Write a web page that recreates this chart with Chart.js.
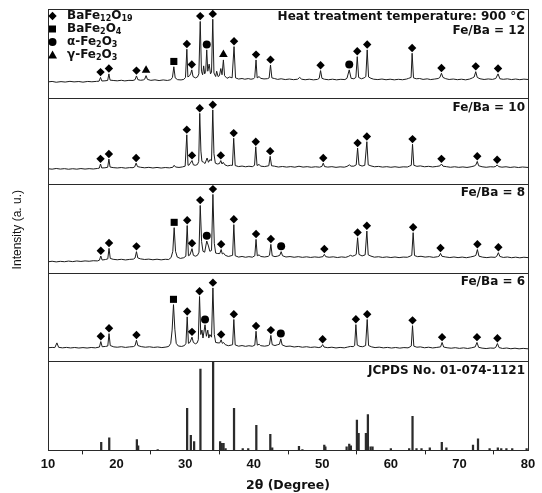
<!DOCTYPE html>
<html>
<head>
<meta charset="utf-8">
<script src="https://cdn.jsdelivr.net/npm/chart.js@4.4.0/dist/chart.umd.min.js"></script>
<style>
  html, body { margin: 0; background: #fff; }
  #wrap { width: 542px; height: 493px; }
</style>
</head>
<body>
<div id="wrap"><canvas id="xrd"></canvas></div>
<script>
// reference pattern JCPDS 01-074-1121 : [2theta, rel. intensity]
const jcpdsSticks = [[17.76,9],[18.93,14],[22.96,12],[23.15,5],[26.0,1],[30.29,47],[30.83,17],[31.31,10],[32.23,91],[34.08,100],
  [35.1,10],[35.34,8],[35.6,8],[35.9,2],[37.13,47],[38.4,2],[39.2,2],[40.38,28],[42.42,18],[42.7,3],[46.6,4.5],[47.1,1],
  [50.29,6],[50.45,4],[53.55,4],[53.93,7],[54.17,5],[55.05,34],[55.3,19],[56.36,19],[56.65,40],[57.04,4],[57.33,4],[60.0,2],
  [62.67,2],[63.16,38],[63.74,2],[64.47,2],[65.68,3],[67.43,9],[68.1,3],[71.98,6],[72.71,13],[74.4,2],[75.6,3],[76.1,2],
  [76.85,2],[77.7,2],[79.8,2]];

const fe12 = [[10,18],[10.6,18.5],[11.2,17.6],[11.9,18.3],[12.5,17.8],[13.2,18.6],[13.8,18],[14.5,18.4],[15.1,17.7],[15.8,18.5],[16.4,18.1],[17.1,18.6],
  [17.45,18.8],[17.66,23],[17.85,19],[18.3,19.2],[18.7,19.6],[18.88,27],[19.05,20],[19.5,19.6],[20.1,19.2],[20.7,19.8],[21.2,19.1],[21.8,19.7],
  [22.4,19.6],[22.7,20.5],[22.9,24.7],[23.1,20.5],[23.5,19.8],[23.9,20.2],[24.1,21],[24.3,25],[24.5,20.8],[25,19.7],[25.6,20.3],[26.2,19.5],
  [26.8,20.2],[27.4,19.6],[27.9,20.4],[28.15,23],[28.35,35],[28.55,22.5],[28.9,20.5],[29.4,20.2],[29.8,20.8],[30.05,23],[30.25,54.7],[30.4,23.5],
  [30.65,25],[30.8,27],[30.97,31.5],[31.15,24],[31.5,22.5],[31.8,23.5],[32.0,27],[32.2,86],[32.38,30],[32.55,26],[32.7,36],[32.85,27],[33.0,30],
  [33.15,54],[33.3,30],[33.5,38],[33.7,27],[33.85,29],[34.03,88.5],[34.2,28],[34.45,24],[34.6,30],[34.8,24],[35.0,25],[35.2,33],[35.38,26],
  [35.58,42.7],[35.75,25],[36.1,22],[36.5,23.5],[36.85,22.5],[37.13,57.7],[37.35,22.5],[37.8,21.2],[38.3,21.8],[38.7,21],[39.2,21.7],[39.6,21],
  [40.0,21.6],[40.15,23],[40.34,42.7],[40.5,22.5],[40.8,24],[41.0,22],[41.5,21.3],[42.0,21.6],[42.25,22.5],[42.45,37],[42.65,22.5],[43.0,21.8],
  [43.5,20.8],[44.0,21.5],[44.6,20.6],[45.2,21.2],[45.8,20.5],[46.4,21],[46.7,23],[47.0,21],[47.5,20.4],[48.1,21],[48.7,20.3],[49.3,20.8],
  [49.55,22],[49.75,30.7],[49.95,22],[50.3,21],[50.9,20.4],[51.5,21],[52.1,20.3],[52.7,20.9],[53.3,20.6],[53.6,22],[53.93,31.5],[54.2,22],
  [54.6,21.5],[54.9,23],[55.1,46.4],[55.3,23],[55.7,21.5],[56.1,22.5],[56.35,24],[56.55,54],[56.75,23.5],[57.1,22],[57.5,21],[58.1,20.6],
  [58.7,21.2],[59.3,20.4],[59.9,21],[60.5,20.3],[61.1,20.9],[61.7,20.4],[62.3,21.2],[62.6,22],[62.95,23],[63.1,50.2],[63.3,22.5],[63.7,21.5],
  [64.2,21.8],[64.7,20.8],[65.3,21.4],[65.8,20.6],[66.4,21.2],[66.9,21.8],[67.15,23],[67.38,27.7],[67.6,23],[68.0,21.6],[68.5,20.7],[69.1,21.2],
  [69.7,20.5],[70.3,21],[70.9,20.3],[71.5,21.2],[71.9,22.5],[72.15,23.5],[72.38,29.5],[72.6,23],[73.0,21.5],[73.6,20.7],[74.2,21.3],[74.8,20.8],
  [75.3,21.8],[75.63,27],[75.9,21.5],[76.4,20.9],[77,21.4],[77.6,20.6],[78.2,21.2],[78.8,20.5],[79.4,21.1],[80,20.7]];

const fe10 = [[10,17.5],[10.6,17],[11.2,17.8],[11.8,17.1],[12.4,17.6],[13,16.9],[13.6,17.5],[14.2,17.0],[14.8,17.7],[15.4,17.1],[16,17.6],[16.6,17.2],
  [17.2,17.8],[17.48,18.2],[17.66,23],[17.84,18.4],[18.3,18.6],[18.7,19.2],[18.88,28.7],[19.05,19.5],[19.5,18.8],[20.1,18.4],[20.7,18.9],[21.3,18.2],
  [21.9,18.8],[22.4,18.7],[22.65,19.8],[22.85,24],[23.05,20],[23.5,19.2],[24.1,18.6],[24.7,19.1],[25.3,18.4],[25.9,19],[26.5,18.3],[27.1,18.9],
  [27.7,18.5],[28.2,19.2],[28.4,21.5],[28.6,19.5],[29.1,19],[29.6,19.6],[30.0,20.5],[30.24,57],[30.42,21.5],[30.6,22],[30.75,24],[31.0,27],
  [31.2,22],[31.5,21.5],[31.8,22.5],[31.98,26],[32.13,82],[32.3,38],[32.45,26],[32.7,25],[32.9,23.5],[33.2,30],[33.4,25],[33.6,28],[33.85,27],
  [34.03,86],[34.2,35],[34.4,24],[34.7,23],[35.0,23.5],[35.2,27],[35.38,23],[35.55,25],[35.8,22],[36.2,20.8],[36.6,21.5],[36.9,21.5],[37.08,53],
  [37.3,21.2],[37.8,20],[38.3,20.6],[38.8,19.8],[39.3,20.4],[39.8,19.9],[40.12,21.5],[40.3,43],[40.48,21.3],[40.8,22.5],[41.0,20.5],[41.6,20],
  [42.2,21],[42.4,32],[42.6,21],[43.0,20.5],[43.6,19.5],[44.2,20.1],[44.8,19.4],[45.4,20],[46,19.3],[46.6,20.4],[47.2,19.4],[47.8,19.9],
  [48.4,19.2],[49,19.8],[49.6,19.3],[49.95,20.2],[50.14,24],[50.33,20],[50.8,19.4],[51.4,19.9],[52,19.1],[52.6,19.7],[53.2,19.3],[53.6,20.2],
  [53.95,22],[54.2,20.5],[54.6,20.5],[54.95,22],[55.15,41.5],[55.35,22],[55.8,20.6],[56.2,21.5],[56.5,49],[56.7,22],[57.1,20.8],[57.6,19.8],
  [58.2,20.2],[58.8,19.4],[59.4,19.9],[60,19.2],[60.6,19.8],[61.2,19.1],[61.8,19.7],[62.4,19.5],[62.7,20.5],[62.98,21.5],[63.16,46],[63.35,21.5],
  [63.8,20.3],[64.3,20.8],[64.9,19.8],[65.5,20.3],[66.1,19.6],[66.7,20.2],[67.15,20.8],[67.38,23],[67.6,20.5],[68.1,19.9],[68.7,19.2],[69.3,19.8],
  [69.9,19.1],[70.5,19.6],[71.1,19],[71.7,19.8],[72.15,20.7],[72.4,22],[72.6,26],[72.8,21],[73.3,19.8],[73.9,19.2],[74.5,19.8],[75.0,19.6],
  [75.3,20.2],[75.5,22],[75.72,20],[76.2,19.3],[76.8,19.8],[77.4,19],[78,19.6],[78.6,18.9],[79.2,19.5],[80,19]];

const fe8 = [[10,12.2],[10.6,12.8],[11.2,12.1],[11.8,12.7],[12.4,12.3],[13,13],[13.6,12.4],[14.2,13.1],[14.8,12.6],[15.4,13.2],[16,12.8],[16.6,13.4],
  [17.2,13.2],[17.5,14],[17.7,18.7],[17.9,14.2],[18.4,14.8],[18.72,15.5],[18.9,27.3],[19.08,16],[19.5,15],[20.1,14.5],[20.7,15],[21.3,14.3],
  [21.9,14.9],[22.45,15.2],[22.7,16.5],[22.9,23.6],[23.1,16.5],[23.5,15.5],[24.1,14.8],[24.7,15.2],[25.3,14.5],[25.9,15.1],[26.5,14.4],[27.1,15],
  [27.6,14.8],[27.95,17],[28.2,24],[28.4,50.6],[28.6,24],[28.85,17.5],[29.3,16],[29.8,16.8],[30.1,18.5],[30.3,53],[30.48,19],[30.7,20],[31.0,27],
  [31.2,19.5],[31.5,18.5],[31.8,19.5],[32.02,23],[32.2,75.6],[32.4,35],[32.6,24],[32.85,23],[33.15,35.6],[33.4,30],[33.6,24],[33.85,25],
  [34.05,88],[34.25,33],[34.45,22],[34.75,21.5],[35.05,21.5],[35.25,26],[35.42,21],[35.6,22],[35.85,19.5],[36.3,18.2],[36.7,19],[36.92,19.5],
  [37.1,54],[37.3,19],[37.8,17.5],[38.3,18.2],[38.8,17.3],[39.3,18],[39.8,17.4],[40.16,19],[40.34,37.4],[40.52,19],[40.8,20],[41.0,18.2],
  [41.6,17.6],[42.1,18.3],[42.3,19.5],[42.5,31.8],[42.7,19],[43.1,18],[43.5,18.6],[43.8,19.5],[44.0,23.6],[44.2,19],[44.7,17.6],[45.3,18.1],
  [45.9,17.3],[46.5,18],[47.1,17.2],[47.7,17.8],[48.3,17.1],[48.9,17.7],[49.5,17.2],[50.1,18],[50.3,20.6],[50.5,18],[51,17.3],[51.6,17.8],
  [52.2,17],[52.8,17.7],[53.4,17.2],[53.8,18.2],[54.1,19.5],[54.4,18.5],[54.75,19.5],[54.95,20.5],[55.15,39.3],[55.35,20.5],[55.8,18.8],
  [56.25,20],[56.5,46.8],[56.7,20],[57.1,18.6],[57.6,17.4],[58.2,17.9],[58.8,17.1],[59.4,17.7],[60,17],[60.6,17.6],[61.2,16.9],[61.8,17.5],
  [62.4,17.3],[62.8,18.5],[63.05,19.5],[63.25,45],[63.45,19.2],[63.9,18],[64.4,18.4],[65,17.5],[65.6,18],[66.2,17.2],[66.8,17.9],[67.05,18.6],
  [67.24,21.7],[67.45,18.4],[68,17.6],[68.6,17],[69.2,17.6],[69.8,16.9],[70.4,17.5],[71,16.8],[71.6,17.6],[72.15,18.6],[72.4,19.5],[72.62,26],
  [72.85,18.5],[73.4,17.4],[74,16.9],[74.6,17.5],[75.2,17.2],[75.45,18.5],[75.68,22.5],[75.9,18.2],[76.4,17.1],[77,17.6],[77.6,16.8],[78.2,17.4],
  [78.8,16.7],[79.4,17.3],[80,16.9]];

const fe6 = [[10,15],[10.6,15.4],[11.0,15.2],[11.3,20.5],[11.55,15.5],[12.1,14.9],[12.7,15.4],[13.3,14.8],[13.9,15.3],[14.5,14.7],[15.1,15.2],
  [15.7,14.7],[16.3,15.3],[16.9,14.9],[17.5,15.8],[17.7,22],[17.9,16.2],[18.4,16.5],[18.72,17],[18.9,31],[19.08,17.5],[19.6,16],[20.1,15.6],
  [20.7,16.2],[21.3,15.4],[21.9,16],[22.45,16.3],[22.7,17.5],[22.9,23.5],[23.1,17.5],[23.6,16.3],[24.2,15.6],[24.8,16.1],[25.4,15.4],[26,15.9],
  [26.6,15.2],[27.2,15.8],[27.6,16.5],[27.9,20],[28.1,35],[28.3,63.8],[28.5,36],[28.7,20],[29.0,17],[29.5,16.5],[29.9,17.5],[30.12,20],[30.3,50],
  [30.48,20],[30.7,21],[31.0,27],[31.2,21],[31.5,19.5],[31.75,20.5],[31.92,24],[32.1,73],[32.28,30],[32.45,35],[32.6,26],[32.9,41],[33.1,28],
  [33.3,35],[33.45,26],[33.6,30],[33.85,27],[34.05,82.7],[34.25,30],[34.45,21],[34.8,20.5],[35.05,20.5],[35.25,24],[35.42,20],[35.6,21],
  [35.85,18.5],[36.3,17.3],[36.7,18],[36.92,18.5],[37.1,47],[37.3,18.2],[37.8,16.8],[38.3,17.5],[38.8,16.6],[39.3,17.3],[39.8,16.7],[40.16,18],
  [40.34,33.7],[40.52,18],[40.8,19],[41.0,17.4],[41.6,16.8],[42.1,17.5],[42.3,18.5],[42.5,29],[42.7,18.5],[43.1,17.5],[43.5,18.5],[43.75,19],
  [43.95,25],[44.15,18.2],[44.7,16.5],[45.3,16.9],[45.9,15.9],[46.5,16.5],[47.1,15.6],[47.7,16.2],[48.3,15.4],[48.9,15.9],[49.5,15.2],[49.85,16],
  [50.05,18.6],[50.25,15.8],[50.8,15.1],[51.4,15.6],[52,14.8],[52.6,15.4],[53.2,14.9],[53.7,15.8],[54.1,16.5],[54.5,16.3],[54.72,17.5],[54.9,41.2],
  [55.1,18],[55.5,16.5],[55.9,16.2],[56.32,17.5],[56.55,47],[56.75,17.5],[57.2,16],[57.7,15.2],[58.3,15.7],[58.9,14.9],[59.5,15.4],[60.1,14.7],
  [60.7,15.3],[61.3,14.6],[61.9,15.2],[62.5,14.9],[62.8,16],[62.98,17],[63.16,40],[63.35,16.8],[63.8,15.6],[64.3,16],[64.9,15],[65.5,15.6],
  [66.1,14.8],[66.7,15.4],[67.25,16],[67.47,21],[67.7,15.8],[68.2,15],[68.8,14.5],[69.4,15.1],[70,14.3],[70.6,14.9],[71.2,14.2],[71.8,15],
  [72.3,16],[72.56,21],[72.8,15.5],[73.3,14.6],[73.9,14.1],[74.5,14.7],[75.05,14.5],[75.3,15.5],[75.54,19.8],[75.78,15.2],[76.3,14.2],[76.9,14.7],
  [77.5,13.9],[78.1,14.5],[78.7,13.8],[79.3,14.3],[80,13.8]];

// peak assignments (2theta of the marked peaks)
const hex12 = [17.66,18.88,22.9,30.25,30.97,32.2,34.03,37.13,40.34,42.45,49.75,55.1,56.55,63.1,67.38,72.38,75.63];
const bf12 = [28.35];
const alpha12 = [33.15,53.93];
const gamma12 = [24.3,35.58];
const hex10 = [17.66,18.88,22.85,30.24,31.0,32.13,34.03,35.2,37.08,40.3,42.4,50.14,55.15,56.5,63.16,67.38,72.6,75.5];
const hex8 = [17.7,18.9,22.9,30.3,31.0,32.2,34.05,35.25,37.1,40.34,42.5,50.3,55.15,56.5,63.25,67.24,72.62,75.68];
const bf8 = [28.4];
const alpha8 = [33.15,44.0];
const hex6 = [17.7,18.9,22.9,30.3,31.0,32.1,34.05,35.25,37.1,40.34,42.5,50.05,54.9,56.55,63.16,67.47,72.56,75.54];
const bf6 = [28.3];
const alpha6 = [32.9,43.95];

const panelLabels = ['JCPDS No. 01-074-1121', 'Fe/Ba = 6', 'Fe/Ba = 8', 'Fe/Ba = 10', 'Fe/Ba = 12'];
const xTicks = [10, 20, 30, 40, 50, 60, 70, 80];

const MARK_GAP = 6;
const INK = '#111';
const BOLD = 'bold 12px "DejaVu Sans"';

function pts(arr) { return arr.map(p => ({x: p[0], y: p[1]})); }

function marks(trace, xs) {
  return xs.map(x => {
    const p = trace.find(q => Math.abs(q[0] - x) < 0.005);
    return {x: x, y: p[1] + MARK_GAP};
  });
}

const styles = {
  hex: {pointStyle: 'rectRot', pointRadius: 4.2},
  bf: {pointStyle: 'rect', pointRadius: 5},
  alpha: {pointStyle: 'circle', pointRadius: 4},
  gamma: {pointStyle: 'triangle', pointRadius: 5}
};

function markSet(trace, xs, kind, axis) {
  return Object.assign({
    type: 'line', data: marks(trace, xs), yAxisID: axis, showLine: false,
    pointBackgroundColor: '#000', pointBorderWidth: 0, pointHoverRadius: 0,
    clip: false, order: 0
  }, styles[kind]);
}

function trace(arr, axis) {
  return {type: 'line', data: pts(arr), yAxisID: axis, borderColor: '#1c1c1c', borderWidth: 1,
    pointRadius: 0, tension: 0, fill: false, order: 1};
}

const datasets = [
  {type: 'bar', data: pts(jcpdsSticks), yAxisID: 'y0', backgroundColor: '#2b2b2b', barThickness: 1.6, order: 2},
  trace(fe6, 'y1'), trace(fe8, 'y2'), trace(fe10, 'y3'), trace(fe12, 'y4'),
  markSet(fe12, hex12, 'hex', 'y4'), markSet(fe12, bf12, 'bf', 'y4'),
  markSet(fe12, alpha12, 'alpha', 'y4'), markSet(fe12, gamma12, 'gamma', 'y4'),
  markSet(fe10, hex10, 'hex', 'y3'),
  markSet(fe8, hex8, 'hex', 'y2'), markSet(fe8, bf8, 'bf', 'y2'), markSet(fe8, alpha8, 'alpha', 'y2'),
  markSet(fe6, hex6, 'hex', 'y1'), markSet(fe6, bf6, 'bf', 'y1'), markSet(fe6, alpha6, 'alpha', 'y1')
];

const weights = [89.5, 88.5, 89, 86, 89];
const scales = {
  x: {
    type: 'linear', min: 10, max: 80, offset: false,
    afterBuildTicks: s => { s.ticks = xTicks.map(v => ({value: v})); },
    ticks: {font: {family: 'Liberation Sans', weight: 'bold', size: 13}, color: INK, padding: 2, maxRotation: 0},
    grid: {drawOnChartArea: false, drawTicks: true, tickLength: 4, color: '#222'},
    border: {display: true, color: '#222'},
    title: {display: true, text: '2θ (Degree)', color: INK, font: {family: 'DejaVu Sans', weight: 'bold', size: 12.5}, padding: {top: 4, bottom: 0}}
  }
};
weights.forEach((w, i) => {
  scales['y' + i] = {
    type: 'linear', position: 'left', stack: 'xrd', stackWeight: w, min: 0, max: 100, offset: false,
    ticks: {display: false}, grid: {display: false, drawTicks: false}, border: {display: false}
  };
});

function drawShape(ctx, kind, x, y) {
  ctx.beginPath();
  if (kind === 'hex') {
    ctx.moveTo(x, y - 4.2); ctx.lineTo(x + 4.2, y); ctx.lineTo(x, y + 4.2); ctx.lineTo(x - 4.2, y);
  } else if (kind === 'bf') {
    ctx.rect(x - 3.5, y - 3.5, 7, 7);
  } else if (kind === 'alpha') {
    ctx.arc(x, y, 4, 0, Math.PI * 2);
  } else {
    ctx.moveTo(x, y - 4.5); ctx.lineTo(x + 4.5, y + 3.5); ctx.lineTo(x - 4.5, y + 3.5);
  }
  ctx.closePath();
  ctx.fill();
}

function richText(ctx, parts, x, y) {
  parts.forEach(p => {
    ctx.font = p[1] ? 'bold 8px "DejaVu Sans"' : BOLD;
    ctx.fillText(p[0], x, p[1] ? y + 3 : y);
    x += ctx.measureText(p[0]).width;
  });
}

const legendRows = [
  ['hex', [['BaFe', 0], ['12', 1], ['O', 0], ['19', 1]]],
  ['bf', [['BaFe', 0], ['2', 1], ['O', 0], ['4', 1]]],
  ['alpha', [['α-Fe', 0], ['2', 1], ['O', 0], ['3', 1]]],
  ['gamma', [['γ-Fe', 0], ['2', 1], ['O', 0], ['3', 1]]]
];

const panelPlugin = {
  id: 'panels',
  afterDraw(chart) {
    const ctx = chart.ctx;
    const area = chart.chartArea;
    ctx.save();
    ctx.strokeStyle = '#2a2a2a';
    ctx.lineWidth = 1;
    for (let i = 0; i < 5; i++) {
      const s = chart.scales['y' + i];
      const t = Math.round(s.top) + 0.5, b = Math.round(s.bottom) + 0.5;
      ctx.strokeRect(Math.round(area.left) + 0.5, t, Math.round(area.right) - Math.round(area.left), b - t);
    }
    ctx.fillStyle = INK;
    ctx.textAlign = 'right';
    ctx.textBaseline = 'middle';
    ctx.font = BOLD;
    for (let i = 0; i < 4; i++) {
      ctx.fillText(panelLabels[i], area.right - 3, chart.scales['y' + i].top + 9.5);
    }
    const top = chart.scales.y4.top;
    ctx.fillText('Heat treatment temperature: 900 °C', area.right - 3, top + 8);
    ctx.fillText(panelLabels[4], area.right - 3, top + 22);

    // legend
    ctx.textAlign = 'left';
    legendRows.forEach((row, k) => {
      const y = top + 7 + k * 13;
      ctx.fillStyle = '#000';
      drawShape(ctx, row[0], area.left + 4.5, y);
      ctx.fillStyle = INK;
      richText(ctx, row[1], area.left + 19, y);
    });

    // y title
    ctx.translate(18, (area.top + area.bottom) / 2);
    ctx.rotate(-Math.PI / 2);
    ctx.textAlign = 'center';
    ctx.font = '12px "Liberation Sans"';
    ctx.fillText('Intensity (a. u.)', 0, 0);
    ctx.restore();
  }
};

new Chart(document.getElementById('xrd'), {
  type: 'line',
  data: {datasets: datasets},
  options: {
    responsive: true, maintainAspectRatio: false, animation: false, devicePixelRatio: 1,
    layout: {padding: {left: 48, top: 9, right: 14, bottom: 0}},
    scales: scales,
    plugins: {legend: {display: false}, tooltip: {enabled: false}}
  },
  plugins: [panelPlugin]
});
</script>
</body>
</html>
